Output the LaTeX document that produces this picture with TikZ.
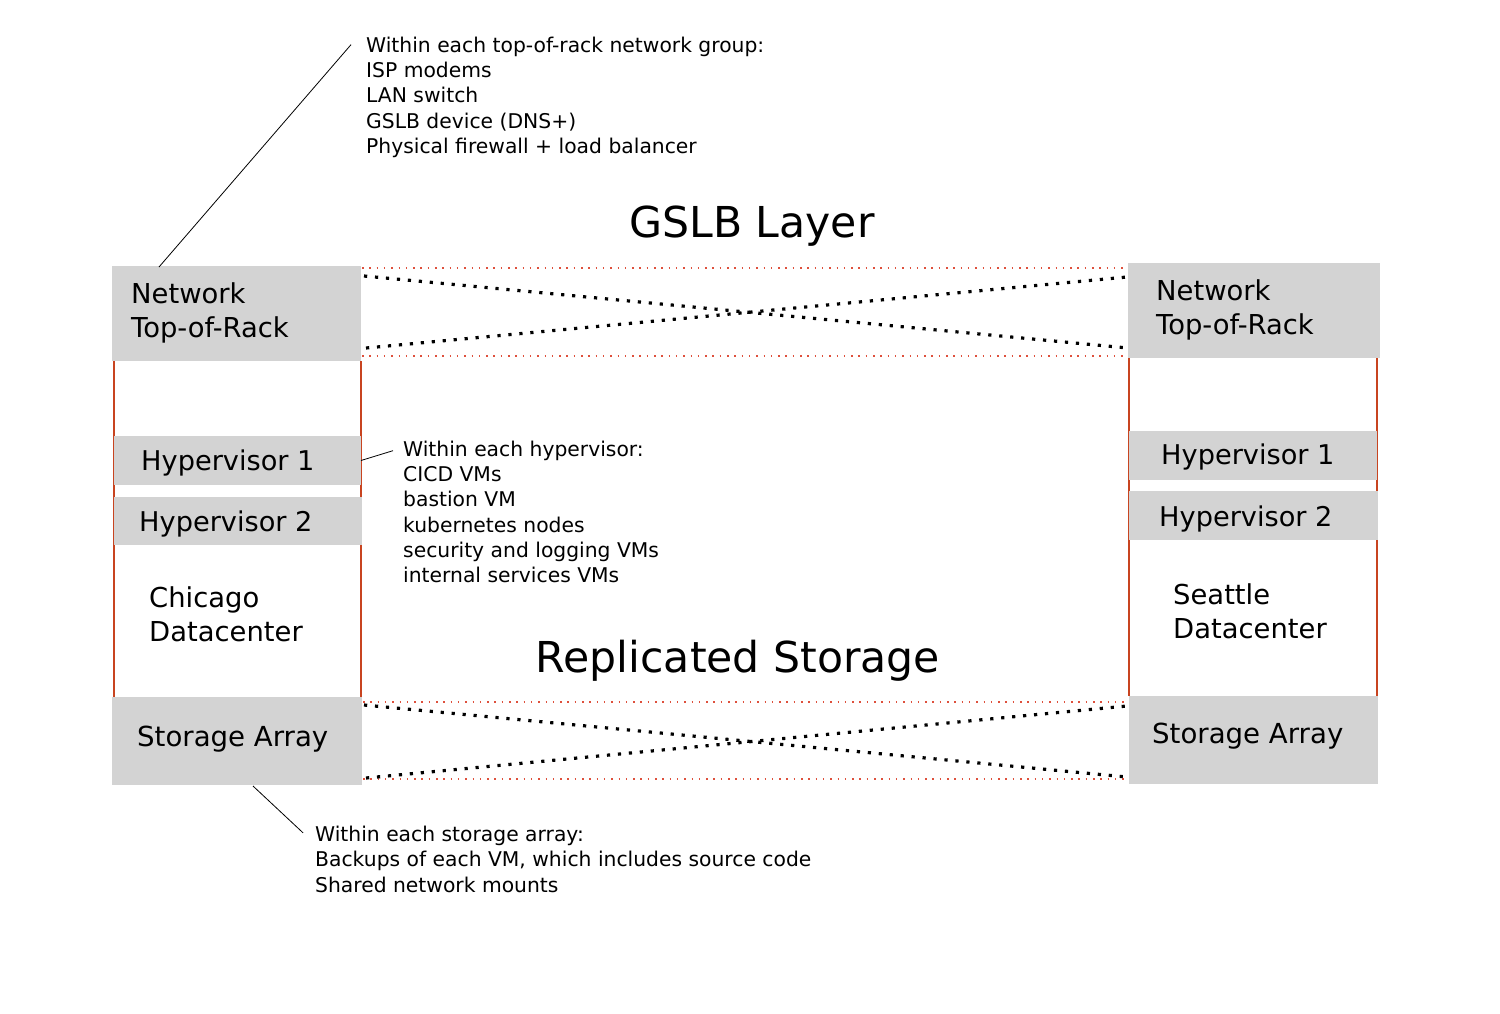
\documentclass[tikz,border=0pt]{standalone}
\usepackage{fontspec}
\setmainfont{DejaVu Sans}
\usetikzlibrary{calc}
\definecolor{boxgray}{RGB}{211,211,211}
\definecolor{dcred}{RGB}{200,68,32}
\definecolor{dotred}{RGB}{222,80,60}
\begin{document}
\begin{tikzpicture}[x=1pt,y=-1pt,
  gbox/.style={fill=boxgray, draw=none, inner sep=0, outer sep=0, anchor=north west},
  hyptxt/.style={font=\fontsize{27.2}{34}\selectfont, inner sep=0, anchor=base west, align=left},
  stortxt/.style={font=\fontsize{27.6}{34}\selectfont, inner sep=0, anchor=base west, align=left},
  bigtxtb/.style={font=\fontsize{27.4}{34}\selectfont, inner sep=0, anchor=base west, align=left},
  annot/.style={font=\fontsize{20.3}{25.3}\selectfont, inner sep=0, anchor=base west, align=left},
  titletxt/.style={font=\fontsize{42.6}{50}\selectfont, inner sep=0, anchor=base},
  dcline/.style={draw=dcred, line width=2pt},
  reddots/.style={draw=dotred, line width=1.5pt, dash pattern=on 1.5pt off 5.8pt},
  blackdots/.style={draw=black, line width=3.2pt, dash pattern=on 3.2pt off 7.8pt},
  annline/.style={draw=black, line width=0.8pt}]
\useasboundingbox[fill=white] (0,0) rectangle (1500,1013);

% boxes
\node[gbox, minimum width=249pt, minimum height=95pt] (ntrL) at (112,266) {};
\node[gbox, minimum width=252pt, minimum height=95pt] (ntrR) at (1128,263) {};
\node[gbox, minimum width=250pt, minimum height=88pt] (storL) at (112,697) {};
\node[gbox, minimum width=249pt, minimum height=88pt] (storR) at (1129,696) {};

% datacenter side lines
\draw[dcline] ($(ntrL.south west)+(2,0)$) -- ($(storL.north west)+(2,0)$);
\draw[dcline] ($(ntrL.south east)+(0,0)$) -- ($(storL.north east)+(-1,0)$);
\draw[dcline] ($(ntrR.south west)+(1,0)$) -- ($(storR.north west)+(0,0)$);
\draw[dcline] ($(ntrR.south east)+(-3,0)$) -- ($(storR.north east)+(-1,0)$);

\node[gbox, minimum width=247pt, minimum height=49pt] (hyp1L) at (114,436) {};
\node[gbox, minimum width=248pt, minimum height=48pt] (hyp2L) at (114,497) {};
\node[gbox, minimum width=248pt, minimum height=49pt] (hyp1R) at (1129,431) {};
\node[gbox, minimum width=249pt, minimum height=49pt] (hyp2R) at (1129,491) {};

% box texts (base = baseline of last line)
\node[bigtxtb] (ntrLt) at (131,337) {Network\\Top-of-Rack};
\node[bigtxtb] (ntrRt) at (1156,334) {Network\\Top-of-Rack};
\node[hyptxt] (hyp1Lt) at (141,470) {Hypervisor 1};
\node[hyptxt] (hyp2Lt) at (139,531) {Hypervisor 2};
\node[hyptxt] (hyp1Rt) at (1161,464) {Hypervisor 1};
\node[hyptxt] (hyp2Rt) at (1159,526) {Hypervisor 2};
\node[bigtxtb] (chi) at (149,641) {Chicago\\Datacenter};
\node[bigtxtb] (sea) at (1173,638) {Seattle\\Datacenter};
\node[stortxt] (storLt) at (137,746) {Storage Array};
\node[stortxt] (storRt) at (1152,743) {Storage Array};

% titles
\node[titletxt] (gslb) at (752,237) {GSLB Layer};
\node[titletxt] (repl) at (738,672) {Replicated Storage};

% GSLB links
\draw[reddots] ($(ntrL.north east)+(1,2)$) -- ($(ntrR.north west)+(0,5)$);
\draw[reddots] ($(ntrL.south east)+(1,-5)$) -- ($(ntrR.south west)+(0,-2)$);
\draw[blackdots] ($(ntrL.north east)+(3,10)$) -- ($(ntrR.south west)+(0,-10)$);
\draw[blackdots] ($(ntrL.south east)+(5,-13)$) -- ($(ntrR.north west)+(-1,14)$);

% storage links
\draw[reddots] ($(storL.north east)+(1,5)$) -- ($(storR.north west)+(0,6)$);
\draw[reddots] ($(storL.south east)+(1,-6)$) -- ($(storR.south west)+(0,-5)$);
\draw[blackdots] ($(storL.north east)+(2,8)$) -- ($(storR.south west)+(-2,-7)$);
\draw[blackdots] ($(storL.south east)+(4,-7)$) -- ($(storR.north west)+(-2,10)$);

% annotations
\node[annot] (annNet) at (366,153.5) {Within each top-of-rack network group:\\ISP modems\\LAN switch\\GSLB device (DNS+)\\Physical firewall + load balancer};
\node[annot] (annHyp) at (403,582.8) {Within each hypervisor:\\CICD VMs\\bastion VM\\kubernetes nodes\\security and logging VMs\\internal services VMs};
\node[annot] (annSto) at (315,892) {Within each storage array:\\Backups of each VM, which includes source code\\Shared network mounts};

\draw[annline] ($(ntrL.north west)+(47,1)$) -- ($(annNet.north west)+(-15,8)$);
\draw[annline] ($(hyp1L.east)+(0,0)$) -- ($(annHyp.north west)+(-10,10)$);
\draw[annline] ($(storL.south west)+(141,1)$) -- ($(annSto.north west)+(-12,7)$);
\end{tikzpicture}
\end{document}
